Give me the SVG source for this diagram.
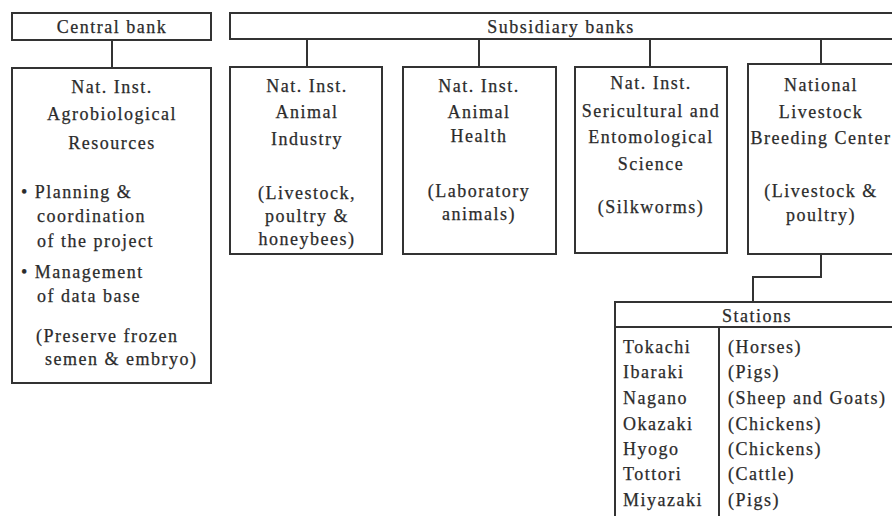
<svg xmlns="http://www.w3.org/2000/svg" width="892" height="516" viewBox="0 0 892 516">
<style>
.box{fill:#fff;stroke:#333;stroke-width:2}
.conn{fill:none;stroke:#333;stroke-width:2}
text{font-family:'Liberation Serif','Times New Roman',serif;font-size:18px;fill:#2b2b2b;stroke:#2b2b2b;stroke-width:0.25;letter-spacing:1.5px}
.c{text-anchor:middle}
</style>
<rect width="892" height="516" fill="#fff"/>
<g id="connectors">
<line class="conn" x1="112" y1="40" x2="112" y2="68"/>
<line class="conn" x1="307" y1="39" x2="307" y2="67"/>
<line class="conn" x1="479" y1="39" x2="479" y2="67"/>
<line class="conn" x1="650" y1="39" x2="650" y2="67"/>
<line class="conn" x1="821" y1="39" x2="821" y2="64"/>
<polyline class="conn" points="821,254 821,277 753,277 753,302"/>
</g>
<g id="central-bank">
<rect class="box" x="12" y="13" width="199" height="27"/>
<text class="c" x="112" y="33">Central bank</text>
</g>
<g id="subsidiary-banks">
<rect class="box" x="230" y="13" width="680" height="26"/>
<text class="c" x="561" y="33">Subsidiary banks</text>
</g>
<g id="agrobiological">
<rect class="box" x="12" y="68" width="199" height="315"/>
<text class="c" x="112" y="93">Nat. Inst.</text>
<text class="c" x="112" y="120">Agrobiological</text>
<text class="c" x="112" y="149">Resources</text>
<text x="21" y="198">• Planning &amp;</text>
<text x="37" y="222">coordination</text>
<text x="37" y="247">of the project</text>
<text x="21" y="278">• Management</text>
<text x="37" y="302">of data base</text>
<text x="36" y="342">(Preserve frozen</text>
<text x="45" y="365">semen &amp; embryo)</text>
</g>
<g id="animal-industry">
<rect class="box" x="230" y="67" width="152" height="187"/>
<text class="c" x="307" y="92">Nat. Inst.</text>
<text class="c" x="307" y="118">Animal</text>
<text class="c" x="307" y="145">Industry</text>
<text class="c" x="307" y="199">(Livestock,</text>
<text class="c" x="307" y="222">poultry &amp;</text>
<text class="c" x="307" y="245">honeybees)</text>
</g>
<g id="animal-health">
<rect class="box" x="403" y="67" width="153" height="187"/>
<text class="c" x="479" y="92">Nat. Inst.</text>
<text class="c" x="479" y="118">Animal</text>
<text class="c" x="479" y="142">Health</text>
<text class="c" x="479" y="197">(Laboratory</text>
<text class="c" x="479" y="220">animals)</text>
</g>
<g id="sericultural">
<rect class="box" x="575" y="67" width="152" height="186"/>
<text class="c" x="651" y="89">Nat. Inst.</text>
<text class="c" x="651" y="117">Sericultural and</text>
<text class="c" x="651" y="143">Entomological</text>
<text class="c" x="651" y="170">Science</text>
<text class="c" x="651" y="213">(Silkworms)</text>
</g>
<g id="livestock-breeding-center">
<rect class="box" x="748" y="64" width="160" height="190"/>
<text class="c" x="821" y="91">National</text>
<text class="c" x="821" y="118">Livestock</text>
<text class="c" x="821" y="144">Breeding Center</text>
<text class="c" x="821" y="197">(Livestock &amp;</text>
<text class="c" x="821" y="221">poultry)</text>
</g>
<g id="stations">
<rect class="box" x="615" y="302" width="290" height="230"/>
<line class="conn" x1="615" y1="327" x2="905" y2="327"/>
<line class="conn" x1="719" y1="327" x2="719" y2="532"/>
<text class="c" x="757" y="322">Stations</text>
<text x="623" y="353">Tokachi</text>
<text x="623" y="378">Ibaraki</text>
<text x="623" y="404">Nagano</text>
<text x="623" y="430">Okazaki</text>
<text x="623" y="455">Hyogo</text>
<text x="623" y="480">Tottori</text>
<text x="623" y="506">Miyazaki</text>
<text x="728" y="353">(Horses)</text>
<text x="728" y="378">(Pigs)</text>
<text x="728" y="404">(Sheep and Goats)</text>
<text x="728" y="430">(Chickens)</text>
<text x="728" y="455">(Chickens)</text>
<text x="728" y="480">(Cattle)</text>
<text x="728" y="506">(Pigs)</text>
</g>
</svg>
